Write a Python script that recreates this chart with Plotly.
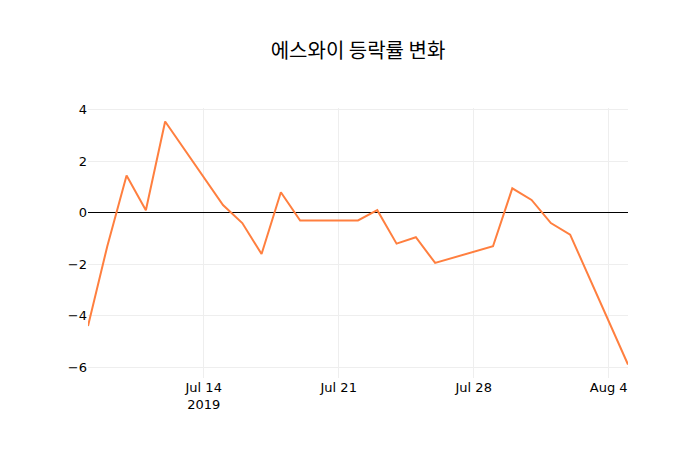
import plotly.graph_objects as go

dates = ["2019-07-08", "2019-07-09", "2019-07-10", "2019-07-11", "2019-07-12",
         "2019-07-15", "2019-07-16", "2019-07-17", "2019-07-18", "2019-07-19",
         "2019-07-22", "2019-07-23", "2019-07-24", "2019-07-25", "2019-07-26",
         "2019-07-29", "2019-07-30", "2019-07-31", "2019-08-01", "2019-08-02",
         "2019-08-05"]
changes = [-4.4, -1.3, 1.45, 0.1, 3.55,
           0.3, -0.4, -1.6, 0.8, -0.3,
           -0.3, 0.1, -1.2, -0.95, -1.95,
           -1.3, 0.95, 0.5, -0.4, -0.85,
           -5.9]

fig = go.Figure(go.Scatter(x=dates, y=changes, mode="lines",
                           line=dict(color="#FF7F3F", width=2)))
fig.update_layout(
    template="plotly_white",
    width=700, height=450,
    margin=dict(l=80, r=80, t=100, b=80),
    title=dict(text="에스와이 등락률 변화", x=0.5,
               font=dict(family="Noto Sans CJK KR", size=20, color="black")),
    font=dict(family="DejaVu Sans", color="black", size=13),
    xaxis=dict(showgrid=True, gridcolor="#eeeeee", automargin=False),
    yaxis=dict(zeroline=True, zerolinecolor="black", zerolinewidth=1,
               gridcolor="#eeeeee", dtick=2, automargin=False),
)
fig.write_html("out.html")
